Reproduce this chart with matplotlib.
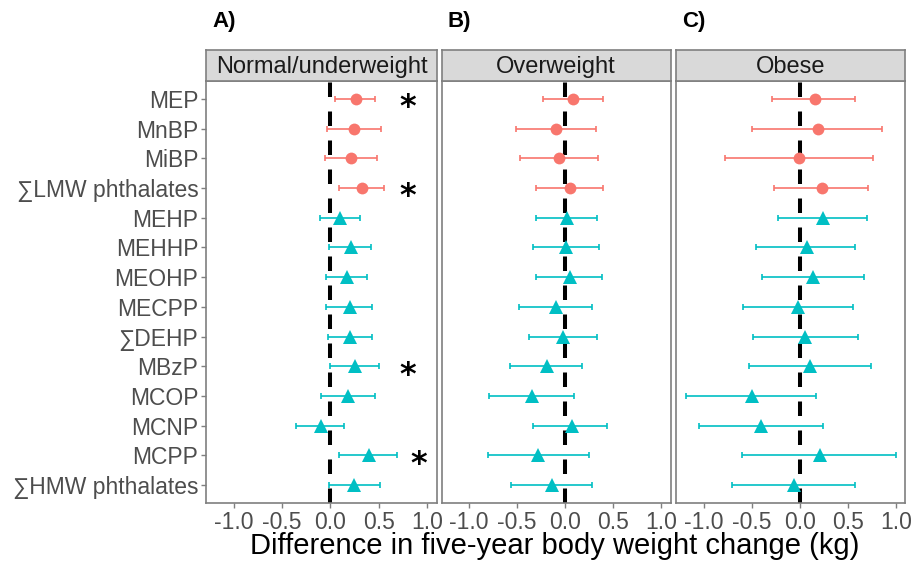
import numpy as np
import matplotlib.pyplot as plt

plt.rcParams['font.family'] = ['Liberation Sans', 'DejaVu Sans']

labels = ['MEP', 'MnBP', 'MiBP', '\u2211LMW phthalates', 'MEHP', 'MEHHP', 'MEOHP',
          'MECPP', '\u2211DEHP', 'MBzP', 'MCOP', 'MCNP', 'MCPP', '\u2211HMW phthalates']
n_lmw = 4  # first four are low molecular weight (circles), rest triangles

panels = ['Normal/underweight', 'Overweight', 'Obese']
panel_tags = ['A)', 'B)', 'C)']

# estimates and 95% CI, one list per BMI group
est_norm = [0.26, 0.24, 0.21, 0.33, 0.10, 0.21, 0.17, 0.20, 0.20, 0.25, 0.18, -0.10, 0.40, 0.24]
lo_norm = [0.05, -0.04, -0.06, 0.09, -0.11, -0.01, -0.05, -0.05, -0.03, 0.00, -0.10, -0.36, 0.09, -0.02]
hi_norm = [0.46, 0.52, 0.48, 0.55, 0.30, 0.42, 0.38, 0.43, 0.43, 0.50, 0.46, 0.14, 0.69, 0.51]

est_over = [0.08, -0.09, -0.06, 0.05, 0.02, 0.01, 0.05, -0.09, -0.02, -0.19, -0.34, 0.07, -0.28, -0.14]
lo_over = [-0.23, -0.51, -0.47, -0.30, -0.30, -0.33, -0.30, -0.48, -0.38, -0.57, -0.79, -0.33, -0.80, -0.56]
hi_over = [0.39, 0.32, 0.34, 0.40, 0.33, 0.35, 0.38, 0.28, 0.33, 0.18, 0.09, 0.44, 0.25, 0.28]

est_obese = [0.16, 0.19, -0.01, 0.23, 0.24, 0.08, 0.14, -0.02, 0.06, 0.11, -0.50, -0.40, 0.21, -0.06]
lo_obese = [-0.29, -0.50, -0.78, -0.27, -0.23, -0.45, -0.39, -0.59, -0.49, -0.53, -1.18, -1.05, -0.60, -0.71]
hi_obese = [0.58, 0.86, 0.76, 0.71, 0.70, 0.58, 0.67, 0.56, 0.61, 0.74, 0.17, 0.24, 1.00, 0.58]

# significance stars (normal/underweight panel only)
star_rows = ['MEP', '\u2211LMW phthalates', 'MBzP', 'MCPP']
star_x = [0.80, 0.80, 0.80, 0.91]

groups = [(est_norm, lo_norm, hi_norm), (est_over, lo_over, hi_over), (est_obese, lo_obese, hi_obese)]

red = '#F8766D'
teal = '#00BFC4'
grey_txt = '#4D4D4D'
frame = '#7F7F7F'

W, H = 913, 561
fig = plt.figure(figsize=(W / 100, H / 100), dpi=100)

panel_x = [(206, 437), (441.7, 670.7), (676.3, 905.3)]
top, bottom, strip_top = 81, 503, 50

ypos = np.arange(len(labels))[::-1] + 1

for k, (x0, x1) in enumerate(panel_x):
    ax = fig.add_axes([x0 / W, (H - bottom) / H, (x1 - x0) / W, (bottom - top) / H])
    est, lo, hi = groups[k]
    est = np.array(est); lo = np.array(lo); hi = np.array(hi)

    ax.axvline(0, color='black', lw=2.9, linestyle=(0, (3.6, 3.6)), zorder=1)

    for sl, col, mk, ms in [(slice(0, n_lmw), red, 'o', 8.5), (slice(n_lmw, None), teal, '^', 9.5)]:
        ax.errorbar(est[sl], ypos[sl], xerr=[est[sl] - lo[sl], hi[sl] - est[sl]],
                    fmt='none', ecolor=col, elinewidth=1.2, capsize=2.5, capthick=1.2, zorder=2)
        ax.plot(est[sl], ypos[sl], linestyle='none', marker=mk, color=col,
                markersize=ms, markeredgewidth=0, zorder=3)

    if k == 0:
        for name, sx in zip(star_rows, star_x):
            yy = ypos[labels.index(name)]
            ax.text(sx, yy - 0.3, '*', fontsize=23, ha='center', va='center',
                    color='black', family='DejaVu Sans', fontweight='bold')

    ax.set_xlim(-1.285, 1.10)
    ax.set_ylim(0.4, 14.6)
    ax.set_xticks([-1.0, -0.5, 0.0, 0.5, 1.0])
    ax.set_xticklabels(['-1.0', '-0.5', '0.0', '0.5', '1.0'])
    ax.set_yticks(ypos)
    if k == 0:
        ax.set_yticklabels(labels)
    else:
        ax.set_yticklabels([])
        ax.tick_params(axis='y', length=0)
    ax.tick_params(axis='both', colors=frame, labelcolor=grey_txt, labelsize=16.5,
                   width=1.0, pad=2)
    for s in ax.spines.values():
        s.set_color(frame)
        s.set_linewidth(1.2)

    # facet strip
    sax = fig.add_axes([x0 / W, (H - top) / H, (x1 - x0) / W, (top - strip_top) / H])
    sax.set_facecolor('#D9D9D9')
    sax.set_xticks([]); sax.set_yticks([])
    for s in sax.spines.values():
        s.set_color(frame)
        s.set_linewidth(1.2)
    sax.text(0.5, 0.45, panels[k], ha='center', va='center', fontsize=17, color='#1A1A1A',
             transform=sax.transAxes)

    fig.text((x0 + 6) / W, 1 - 22 / H, panel_tags[k], fontsize=16, fontweight='bold',
             ha='left', va='center', family=['Liberation Sans', 'DejaVu Sans'])

fig.text(555 / W, 1 - 546 / H, 'Difference in five-year body weight change (kg)',
         fontsize=21, ha='center', va='center', color='black')

fig.savefig('out.png', dpi=100)
